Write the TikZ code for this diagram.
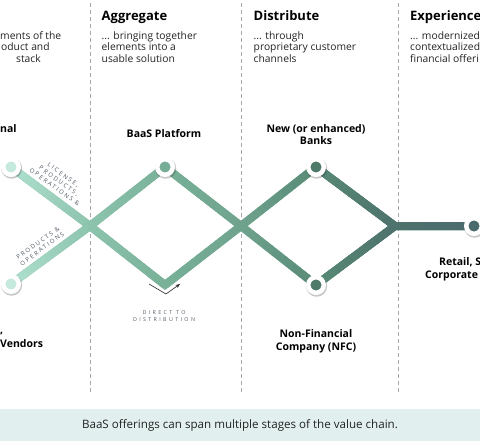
\documentclass[tikz,border=0pt]{standalone}
\usepackage{fontspec}
\setmainfont{Open Sans}
\newfontfamily\spacedfont[LetterSpace=30]{Open Sans}
\newfontfamily\widefont[LetterSpace=45]{Open Sans}
\usetikzlibrary{calc,arrows.meta}
\definecolor{cA}{HTML}{B0E0CF}
\definecolor{cB}{HTML}{8CC4AE}
\definecolor{cC}{HTML}{78B098}
\definecolor{cD}{HTML}{6FA38E}
\definecolor{cE}{HTML}{588A76}
\definecolor{cF}{HTML}{4E726C}
\definecolor{cG}{HTML}{4B6A6E}
\definecolor{inL}{HTML}{C6E9DD}
\definecolor{inT}{HTML}{77AD96}
\definecolor{inM}{HTML}{4E7A6A}
\definecolor{inR}{HTML}{4B6A6E}
\definecolor{bandc}{HTML}{E1F0EE}
\definecolor{divc}{HTML}{A8A8A8}
\definecolor{txt}{HTML}{222222}
\definecolor{tinyc}{HTML}{505A66}
\newcommand\gradseg[4]{%
  \foreach \i in {0,...,15}{%
    \pgfmathsetmacro\pa{\i/16}%
    \pgfmathsetmacro\pb{min((\i+1.2)/16,1)}%
    \pgfmathsetmacro\pc{100-(\i+0.5)*100/16}%
    \draw[line width=8, draw={#3!\pc!#4}] ($(#1)!\pa!(#2)$) -- ($(#1)!\pb!(#2)$);
  }}
\begin{document}
\begin{tikzpicture}[x=1pt,y=-1pt,
  hdr/.style={font=\fontsize{13}{15}\selectfont\bfseries, anchor=base west, inner sep=0, text=black},
  sub/.style={font=\fontsize{10.3}{11.5}\selectfont, anchor=base west, inner sep=0, text=txt},
  lbl/.style={font=\fontsize{10.5}{12}\selectfont\bfseries, inner sep=0, anchor=base, text=black},
  tinytxt/.style={font=\spacedfont\fontsize{6}{7.4}\selectfont, text=tinyc, inner sep=0, align=center},
  widetxt/.style={font=\widefont\fontsize{5.3}{7}\selectfont, text=tinyc, inner sep=0, align=center},
  divider/.style={draw=divc, line width=0.9, dash pattern=on 4 off 3},
  stop/.style={circle, draw=white, line width=4.5, minimum size=15.5, inner sep=0,
    preaction={draw=black, fill=black, opacity=0.22, line width=5.5,
      transform canvas={xshift=0.6pt, yshift=-1.2pt}}},
  base/.style={line width=8, line join=miter},
]
\useasboundingbox (0,0) rectangle (480,444);
% band
\fill[bandc] (0,409) rectangle (480,441);
\node[font=\fontsize{11.6}{13}\selectfont, text=txt] (note) at (240,425) {BaaS offerings can span multiple stages of the value chain.};
% dividers
\draw[divider] (90.5,3) -- (90.5,395);
\draw[divider] (241,3) -- (241,395);
\draw[divider] (398,3) -- (398,395);
% headers
\node[hdr] (hagg) at (101.5,20.7) {Aggregate};
\node[hdr] (hdis) at (253.5,20.7) {Distribute};
\node[hdr] (hexp) at (410,20.7) {Experience};
\node[sub] (s1a) at (0,39.5) {ments of the};
\node[sub] (s1b) at (1,51) {oduct and};
\node[sub] (s1c) at (16,62.5) {stack};
\node[sub] (s2a) at (101.5,39.5) {... bringing together};
\node[sub] (s2b) at (101.5,51) {elements into a};
\node[sub] (s2c) at (101.5,62.5) {usable solution};
\node[sub] (s3a) at (253.5,39.5) {... through};
\node[sub] (s3b) at (253.5,51) {proprietary customer};
\node[sub] (s3c) at (253.5,62.5) {channels};
\node[sub] (s4a) at (410,39.5) {... modernized};
\node[sub] (s4b) at (410,51) {contextualized};
\node[sub] (s4c) at (410,62.5) {financial offeri};
% geometry
\coordinate (x1) at (90,226);
\coordinate (x2) at (241,226);
\coordinate (x3) at (395,226);
\coordinate (bot) at (165,285);
\coordinate (pL1) at (11,167);
\coordinate (pL2) at (11,284);
\coordinate (pT) at (165,167);
\coordinate (pB) at (316,167);
\coordinate (pN) at (316,285);
\coordinate (pR) at (474,226);
% base lines
\draw[base, cC] (pL1) -- (x1) -- (bot) -- (x2) -- (pB) -- (x3) -- (pR);
\draw[base, cC] (pL2) -- (x1) -- (pT) -- (x2) -- (pN) -- (x3) -- (pR);
\draw[base, cF] (pB) -- (x3) -- (pR);
\draw[base, cF] (pN) -- (x3) -- (pR);
% gradient overlay
\gradseg{pL1}{x1}{cA}{cB}
\gradseg{pL2}{x1}{cA}{cB}
\gradseg{x1}{bot}{cB}{cC}
\gradseg{x1}{pT}{cB}{cC}
\gradseg{bot}{x2}{cC}{cD}
\gradseg{pT}{x2}{cC}{cD}
\gradseg{x2}{pB}{cD}{cE}
\gradseg{x2}{pN}{cD}{cE}
\gradseg{pB}{x3}{cE}{cF}
\gradseg{pN}{x3}{cE}{cF}
\gradseg{x3}{pR}{cF}{cG}
% stops
\node[stop, fill=inL] (lic) at (pL1) {};
\node[stop, fill=inL] (ven) at (pL2) {};
\node[stop, fill=inT] (baas) at (pT) {};
\node[stop, fill=inM] (banks) at (pB) {};
\node[stop, fill=inM] (nfc) at (pN) {};
\node[stop, fill=inR] (retail) at (pR) {};
% labels
\node[lbl, anchor=base west] (lnal) at (0,132.3) {nal};
\node[lbl, anchor=base west] (lcom) at (0,333) {,};
\node[lbl, anchor=base west] (lven) at (0,347) {Vendors};
\node[lbl] (lbaas) at (164,138) {BaaS Platform};
\node[lbl] (lbanks1) at (316,132) {New (or enhanced)};
\node[lbl] (lbanks2) at (316,145) {Banks};
\node[lbl] (lnfc1) at (316,337) {Non-Financial};
\node[lbl] (lnfc2) at (316,350.5) {Company (NFC)};
\node[lbl, anchor=base west] (lret1) at (439,265) {Retail, S};
\node[lbl, anchor=base west] (lret2) at (425,278.5) {Corporate c};
% small captions
\node[tinytxt, rotate=-36] (capA) at (59,181) {LICENSE,\\PRODUCTS,\\OPERATIONS \&};
\node[tinytxt, rotate=36] (capB) at (40,246) {PRODUCTS \&\\OPERATIONS};
\node[widetxt] (capC) at (164,316.5) {DIRECT TO\\DISTRIBUTION};
% arrow
\coordinate (a1) at (149,284);
\coordinate (a2) at (166,294);
\coordinate (a3) at (180,284);
\draw[line width=0.6, draw=black!85, -{Stealth[length=4.5pt,width=3.5pt]}] (a1) -- (a2) -- (a3);
\end{tikzpicture}
\end{document}
